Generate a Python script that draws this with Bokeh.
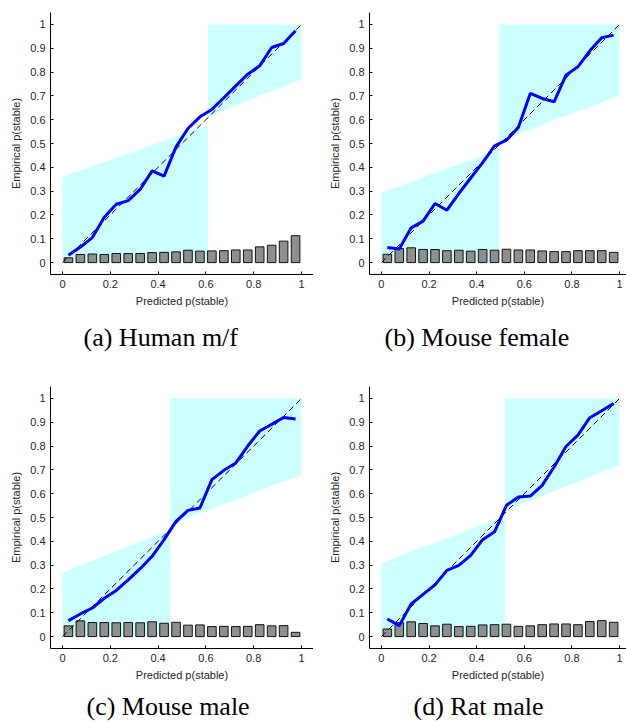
from bokeh.plotting import figure
from bokeh.layouts import column, row
from bokeh.models import Range1d, FixedTicker, Title
from bokeh.embed import file_html
from bokeh.resources import INLINE

# ---------------- data ----------------
bin_centers = [0.025, 0.075, 0.125, 0.175, 0.225, 0.275, 0.325, 0.375, 0.425, 0.475,
               0.525, 0.575, 0.625, 0.675, 0.725, 0.775, 0.825, 0.875, 0.925, 0.975]

captions = ["(a)\u00a0Human m/f", "(b)\u00a0Mouse female",
            "(c)\u00a0Mouse male", "(d)\u00a0Rat male"]

emp_a = [0.031, 0.065, 0.105, 0.19, 0.245, 0.26, 0.307, 0.385, 0.363, 0.486,
         0.563, 0.612, 0.643, 0.692, 0.742, 0.791, 0.826, 0.903, 0.92, 0.973]
bars_a = [0.02, 0.034, 0.036, 0.034, 0.038, 0.038, 0.038, 0.042, 0.043, 0.045,
          0.052, 0.048, 0.049, 0.05, 0.053, 0.053, 0.066, 0.073, 0.09, 0.113]

emp_b = [0.063, 0.057, 0.146, 0.174, 0.248, 0.22, 0.29, 0.355, 0.42, 0.49,
         0.514, 0.567, 0.71, 0.689, 0.675, 0.787, 0.822, 0.889, 0.944, 0.955]
bars_b = [0.035, 0.059, 0.062, 0.055, 0.055, 0.05, 0.052, 0.048, 0.055, 0.052,
          0.056, 0.053, 0.053, 0.049, 0.046, 0.046, 0.05, 0.05, 0.05, 0.043]

emp_c = [0.067, 0.095, 0.12, 0.161, 0.194, 0.238, 0.285, 0.337, 0.407, 0.484,
         0.53, 0.54, 0.659, 0.698, 0.729, 0.8, 0.863, 0.891, 0.92, 0.914]
bars_c = [0.045, 0.066, 0.059, 0.059, 0.058, 0.059, 0.058, 0.062, 0.056, 0.06,
          0.048, 0.049, 0.042, 0.043, 0.042, 0.043, 0.05, 0.045, 0.046, 0.018]

emp_d = [0.074, 0.046, 0.137, 0.177, 0.217, 0.278, 0.299, 0.341, 0.407, 0.44,
         0.551, 0.586, 0.59, 0.635, 0.712, 0.798, 0.846, 0.919, 0.948, 0.979]
bars_d = [0.032, 0.058, 0.062, 0.055, 0.045, 0.052, 0.042, 0.043, 0.049, 0.05,
          0.052, 0.043, 0.045, 0.05, 0.053, 0.053, 0.05, 0.063, 0.067, 0.06]

# threshold and shaded band edges: [t, left_at_0, left_at_t, right_at_t, right_at_1]
band_a = [0.609, 0.36, 0.577, 0.612, 0.77]
band_b = [0.494, 0.293, 0.475, 0.507, 0.703]
band_c = [0.451, 0.268, 0.449, 0.47, 0.68]
band_d = [0.519, 0.309, 0.506, 0.53, 0.718]

y_ticks = [0, 0.1, 0.2, 0.3, 0.4, 0.5, 0.6, 0.7, 0.8, 0.9, 1]
y_tick_labels = ["0", "0.1", "0.2", "0.3", "0.4", "0.5", "0.6", "0.7", "0.8", "0.9", "1"]
x_ticks = [0, 0.2, 0.4, 0.6, 0.8, 1]
x_tick_labels = ["0", "0.2", "0.4", "0.6", "0.8", "1"]

TXT = "#262626"


def panel(emp, bars, band, caption, cap_offset, cap_standoff, left, top, height, x_end, width=313):
    p = figure(width=width, height=height, output_backend="svg", toolbar_location=None,
               x_range=Range1d(-0.05, x_end), y_range=Range1d(-0.05, 1.05),
               min_border_left=left, min_border_right=0, min_border_top=top,
               min_border_bottom=height - top - 262)
    p.frame_height = 262
    p.outline_line_color = None
    p.grid.visible = False
    p.background_fill_color = "white"

    t, l0, lt, rt, r1 = band
    p.patch([0, 0, t, t], [0, l0, lt, 0], fill_color="#ccffff", line_color=None)
    p.patch([t, t, 1, 1], [rt, 1, 1, r1], fill_color="#ccffff", line_color=None)

    p.vbar(x=bin_centers, top=bars, bottom=0, width=0.036,
           fill_color="#8f8f8f", line_color="#111111", line_width=1)
    p.line([0, 1], [0, 1], line_color="black", line_dash="6 4", line_width=1)
    p.line(bin_centers, emp, line_color="#0000ff", line_width=3)

    for ax in (p.xaxis[0], p.yaxis[0]):
        ax.major_tick_in = 3
        ax.major_tick_out = 0
        ax.minor_tick_line_color = None
        ax.axis_line_color = "black"
        ax.major_tick_line_color = "black"
        ax.major_label_text_color = TXT
        ax.major_label_text_font = "Liberation Sans"
        ax.major_label_text_font_size = "11px"
        ax.axis_label_text_font = "Liberation Sans"
        ax.axis_label_text_font_size = "11px"
        ax.axis_label_text_font_style = "normal"
        ax.axis_label_text_color = TXT
    p.xaxis.ticker = FixedTicker(ticks=x_ticks)
    p.xaxis.major_label_overrides = dict(zip(x_ticks, x_tick_labels))
    p.yaxis.ticker = FixedTicker(ticks=y_ticks)
    p.yaxis.major_label_overrides = dict(zip(y_ticks, y_tick_labels))
    p.xaxis.axis_label = "Predicted p(stable)"
    p.yaxis.axis_label = "Empirical p(stable)"
    p.xaxis.major_label_standoff = 5
    p.yaxis.major_label_standoff = 5
    p.xaxis.axis_label_standoff = 4
    p.yaxis.axis_label_standoff = 5

    p.add_layout(Title(text=caption, align="left", offset=cap_offset,
                       standoff=cap_standoff, text_font="Liberation Serif",
                       text_font_size="26px", text_font_style="normal",
                       text_color="black"), "below")
    return p


pa = panel(emp_a, bars_a, band_a, captions[0], 33, 22, 50, 12, 372, 1.05)
pb = panel(emp_b, bars_b, band_b, captions[1], 15, 22, 56, 12, 372, 1.029)
pc = panel(emp_c, bars_c, band_c, captions[2], 36, 12, 50, 14, 352, 1.05)
pd = panel(emp_d, bars_d, band_d, captions[3], 44, 12, 56, 14, 352, 1.029)

layout = column(row(pa, pb), row(pc, pd))

with open("out.html", "w") as f:
    f.write(file_html(layout, INLINE))
